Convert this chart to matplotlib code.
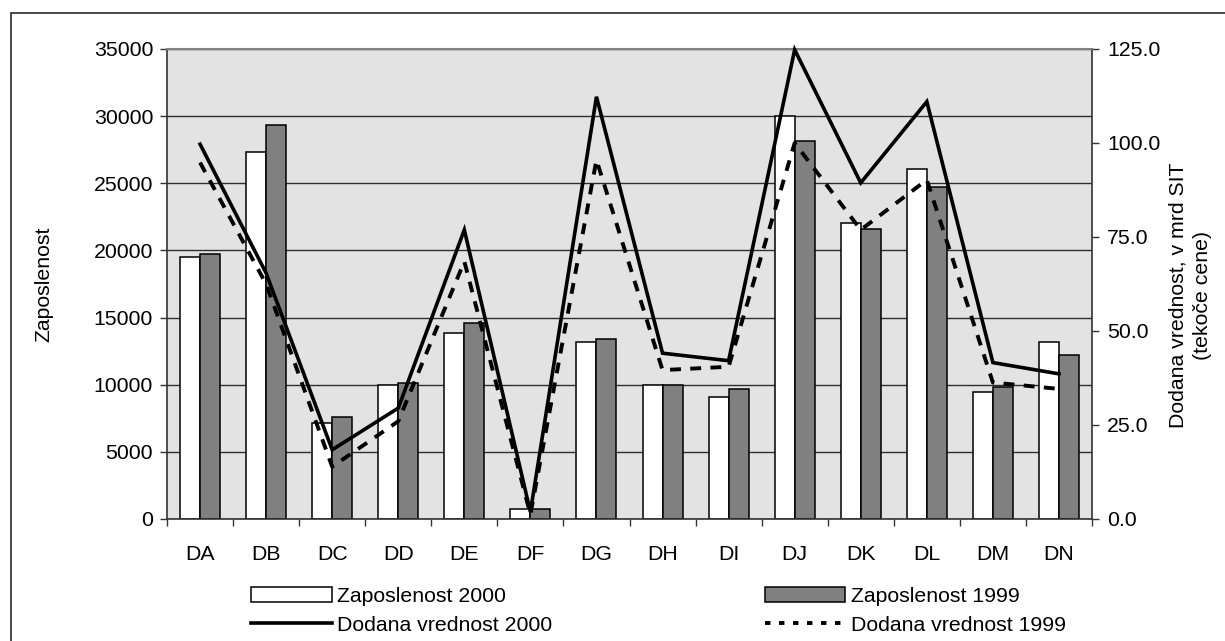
import matplotlib
matplotlib.use("Agg")
import matplotlib.pyplot as plt
from matplotlib.patches import Rectangle, Patch
from matplotlib.lines import Line2D
from matplotlib.ticker import FuncFormatter, MultipleLocator
import numpy as np

plt.rcParams['font.family'] = ['Liberation Sans', 'DejaVu Sans']
plt.rcParams['font.size'] = 15.3

# data
panoge = ['DA', 'DB', 'DC', 'DD', 'DE', 'DF', 'DG', 'DH', 'DI', 'DJ', 'DK', 'DL', 'DM', 'DN']
zap_2000 = [19500, 27300, 7150, 10000, 13850, 720, 13150, 10000, 9050, 30000, 22050, 26100, 9450, 13150]
zap_1999 = [19700, 29350, 7600, 10150, 14600, 750, 13400, 10000, 9700, 28150, 21600, 24700, 9850, 12250]
dv_2000 = [99.7, 65.4, 18.4, 29.5, 76.9, 1.9, 112.3, 44.1, 42.1, 124.8, 89.4, 111.0, 41.6, 38.6]
dv_1999 = [94.8, 62.5, 13.9, 26.0, 68.5, 1.2, 95.5, 39.6, 40.5, 100.0, 76.9, 90.2, 36.3, 34.6]

lbl_z2000 = 'Zaposlenost 2000'
lbl_z1999 = 'Zaposlenost 1999'
lbl_d2000 = 'Dodana vrednost 2000'
lbl_d1999 = 'Dodana vrednost 1999'

W, H = 1225, 641
fig = plt.figure(figsize=(W / 100, H / 100), dpi=100)

# outer chart frame (runs off right and bottom edge)
fig.patches.append(Rectangle((11 / W, -0.1), 1.2, 1 - 13 / H + 0.1,
                             transform=fig.transFigure, fill=False,
                             edgecolor='#3a3a3a', lw=1.3))

ax = fig.add_axes([167 / W, 1 - 519 / H, (1092 - 167) / W, (519 - 49) / H])
ax.set_facecolor('#e3e3e3')

x = np.arange(len(panoge))
bw = 0.303
ax.bar(x - bw / 2, zap_2000, bw, color='white', edgecolor='black', lw=1.1, zorder=2)
ax.bar(x + bw / 2, zap_1999, bw, color='#808080', edgecolor='black', lw=1.1, zorder=2)

ax.set_xlim(-0.5, len(panoge) - 0.5)
ax.set_ylim(0, 35000)
ax.yaxis.set_major_locator(MultipleLocator(5000))
ax.set_axisbelow(True)
ax.yaxis.grid(True, color='#2e2e2e', lw=1.0)

ax.set_xticks(x)
ax.set_xticklabels(panoge)
ax.set_xticks(np.arange(len(panoge) + 1) - 0.5, minor=True)
ax.tick_params(axis='x', which='major', length=0, pad=18.5)
ax.tick_params(axis='x', which='minor', length=5, width=1.0, direction='out', color='#333333')
ax.tick_params(axis='y', length=5, width=1.0, pad=5, color='#333333')

ax.spines['top'].set_color('#808080')
ax.spines['top'].set_linewidth(1.5)
for s in ['left', 'bottom', 'right']:
    ax.spines[s].set_color('#333333')
    ax.spines[s].set_linewidth(1.2)

ax.set_ylabel('Zaposlenost')
ax.yaxis.set_label_coords(-0.1232, 0.5)

ax2 = ax.twinx()
ax2.plot(x, dv_2000, color='black', lw=2.6, solid_joinstyle='miter', clip_on=False, zorder=4)
ax2.plot(x, dv_1999, color='black', lw=2.8, dashes=(2.8, 2.4), clip_on=False, zorder=3)
ax2.set_ylim(0, 125)
ax2.yaxis.set_major_locator(MultipleLocator(25))
ax2.yaxis.set_major_formatter(FuncFormatter(lambda v, p: '%.1f' % v))
ax2.tick_params(axis='y', length=5, width=1.0, pad=6, color='#333333')
for s in ax2.spines.values():
    s.set_visible(False)
ax2.set_ylabel('Dodana vrednost, v mrd SIT\n(tekoče cene)', linespacing=1.35)
ax2.yaxis.set_label_coords(1.083, 0.475)

handles = [
    Patch(facecolor='white', edgecolor='black', lw=1.1),
    Line2D([], [], color='black', lw=2.6),
    Patch(facecolor='#808080', edgecolor='black', lw=1.1),
    Line2D([], [], color='black', lw=2.8, dashes=(1.4, 2.2)),
]
labels = [lbl_z2000, lbl_d2000, lbl_z1999, lbl_d1999]
fig.legend(handles, labels, ncol=2, loc='upper left',
           bbox_to_anchor=(251 / W, 1 - 587 / H), frameon=False,
           borderpad=0, borderaxespad=0, handlelength=3.8, handleheight=0.7,
           handletextpad=0.25, labelspacing=0.45, columnspacing=10.0)

fig.savefig('out.png', dpi=100)
